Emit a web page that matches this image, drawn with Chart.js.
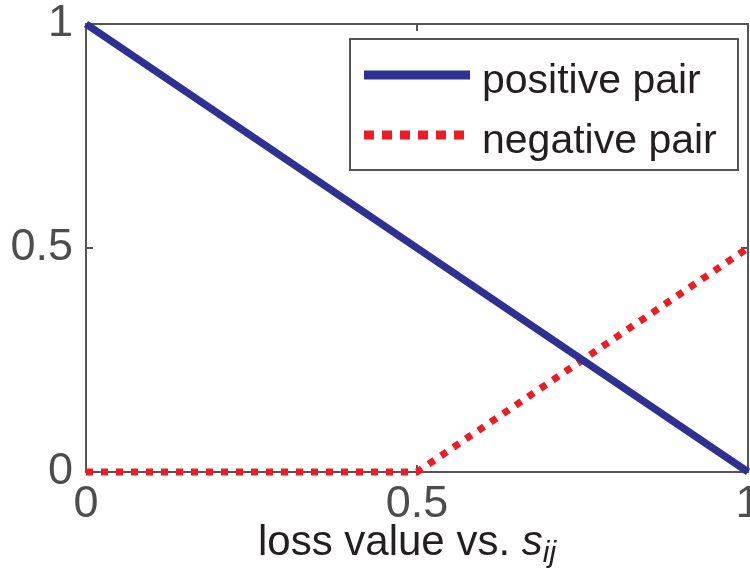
<!DOCTYPE html>
<html>
<head>
<meta charset="utf-8">
<script src="https://cdn.jsdelivr.net/npm/chart.js@4/dist/chart.umd.min.js"></script>
<style>
  html, body { margin: 0; padding: 0; background: #ffffff; }
  #wrap { width: 750px; height: 571px; }
</style>
</head>
<body>
<div id="wrap"><canvas id="c" width="750" height="571"></canvas></div>
<script>
// Similarity s_ij on the x axis, loss on the y axis
const sValues = [0, 0.5, 1];
const positivePairLoss = [1, 0.5, 0];
const negativePairLoss = [0, 0, 0.5];
const seriesNames = ['positive pair', 'negative pair'];
const tickValues = [0, 0.5, 1];
const tickLabels = ['0', '0.5', '1'];

const FONT = '"Liberation Sans", Arial, Helvetica, sans-serif';
const AXIS_COLOR = '#555555';
const TICK_TEXT = '#4d4d4d';
const TEXT = '#231f20';

function toPoints(xs, ys) {
  return xs.map((x, i) => ({ x: x, y: ys[i] }));
}

function fixedTicks(scale) {
  scale.ticks = tickValues.map(v => ({ value: v }));
}

// Box around the plot with inward tick marks on all four sides (drawn under the lines)
const boxPlugin = {
  id: 'box',
  beforeDatasetsDraw(chart) {
    const { ctx, chartArea: a, scales } = chart;
    ctx.save();
    ctx.strokeStyle = AXIS_COLOR;
    ctx.lineWidth = 2;
    ctx.strokeRect(a.left, a.top, a.right - a.left, a.bottom - a.top);
    const len = 7;
    ctx.beginPath();
    tickValues.forEach(v => {
      const px = scales.x.getPixelForValue(v);
      ctx.moveTo(px, a.bottom); ctx.lineTo(px, a.bottom - len);
      ctx.moveTo(px, a.top); ctx.lineTo(px, a.top + len);
      const py = scales.y.getPixelForValue(v);
      ctx.moveTo(a.left, py); ctx.lineTo(a.left + len, py);
      ctx.moveTo(a.right, py); ctx.lineTo(a.right - len, py);
    });
    ctx.stroke();
    ctx.restore();
  }
};

// Legend drawn inside the plot, upper right, with a framed box
const legendPlugin = {
  id: 'innerLegend',
  afterDraw(chart) {
    const { ctx, chartArea: a } = chart;
    const right = a.right - 10;
    const left = right - 388;
    const top = a.top + 15;
    const bottom = top + 131;
    ctx.save();
    ctx.fillStyle = '#ffffff';
    ctx.fillRect(left, top, right - left, bottom - top);
    ctx.strokeStyle = AXIS_COLOR;
    ctx.lineWidth = 2;
    ctx.strokeRect(left, top, right - left, bottom - top);
    const rows = [top + 36, top + 96];
    chart.data.datasets.forEach((ds, i) => {
      const y = rows[i];
      ctx.beginPath();
      ctx.strokeStyle = ds.borderColor;
      ctx.lineWidth = 9;
      ctx.setLineDash(ds.borderDash ? [10, 8] : []);
      ctx.lineCap = 'butt';
      ctx.moveTo(left + 14, y);
      ctx.lineTo(left + 120, y);
      ctx.stroke();
      ctx.setLineDash([]);
      ctx.fillStyle = TEXT;
      ctx.font = '41px ' + FONT;
      ctx.textAlign = 'left';
      ctx.textBaseline = 'alphabetic';
      ctx.fillText(ds.label, left + 132, y + 18);
    });
    ctx.restore();
  }
};

// X-axis title with italic, subscripted s_ij
const xTitlePlugin = {
  id: 'xTitle',
  afterDraw(chart) {
    const { ctx, chartArea: a } = chart;
    const main = 'loss value vs. ';
    const sym = 's';
    const sub = 'ij';
    ctx.save();
    ctx.fillStyle = TEXT;
    ctx.textBaseline = 'alphabetic';
    ctx.textAlign = 'left';
    const fMain = '42px ' + FONT;
    const fSym = 'italic 42px ' + FONT;
    const fSub = 'italic 30px ' + FONT;
    ctx.font = fMain; const w1 = ctx.measureText(main).width;
    ctx.font = fSym; const w2 = ctx.measureText(sym).width;
    ctx.font = fSub; const w3 = ctx.measureText(sub).width;
    const total = w1 + w2 + w3;
    const cx = (a.left + a.right) / 2 - 10;
    let x = cx - total / 2;
    const base = a.bottom + 83;
    ctx.font = fMain; ctx.fillText(main, x, base); x += w1;
    ctx.font = fSym; ctx.fillText(sym, x, base); x += w2;
    ctx.font = fSub; ctx.fillText(sub, x, base + 7);
    ctx.restore();
  }
};

new Chart(document.getElementById('c'), {
  type: 'scatter',
  data: {
    datasets: [
      {
        label: seriesNames[0],
        data: toPoints(sValues, positivePairLoss),
        showLine: true,
        borderColor: '#2e3192',
        backgroundColor: '#2e3192',
        borderWidth: 7.5,
        pointRadius: 0,
        tension: 0,
        clip: 4
      },
      {
        label: seriesNames[1],
        data: toPoints(sValues, negativePairLoss),
        showLine: true,
        borderColor: '#ed1c24',
        backgroundColor: '#ed1c24',
        borderWidth: 7,
        borderDash: [7, 8],
        borderCapStyle: 'butt',
        pointRadius: 0,
        tension: 0,
        clip: 4
      }
    ]
  },
  options: {
    responsive: false,
    animation: false,
    devicePixelRatio: 1,
    layout: { padding: { top: 24, right: 2, left: 0, bottom: 0 } },
    plugins: {
      legend: { display: false },
      tooltip: { enabled: false }
    },
    scales: {
      x: {
        type: 'linear',
        min: 0,
        max: 1,
        afterBuildTicks: fixedTicks,
        afterFit(scale) {
          scale.height = 99;
          scale.paddingLeft = 0;
          scale.paddingRight = 0;
        },
        grid: { display: false, drawTicks: false },
        border: { display: false },
        ticks: {
          padding: 6,
          maxRotation: 0,
          autoSkip: false,
          color: TICK_TEXT,
          font: { family: FONT, size: 45 },
          callback: (v) => tickLabels[tickValues.indexOf(v)]
        }
      },
      y: {
        type: 'linear',
        min: 0,
        max: 1,
        afterBuildTicks: fixedTicks,
        afterFit(scale) {
          scale.width = 86;
          scale.paddingTop = 0;
          scale.paddingBottom = 0;
        },
        grid: { display: false, drawTicks: false },
        border: { display: false },
        ticks: {
          padding: 13,
          autoSkip: false,
          color: TICK_TEXT,
          font: { family: FONT, size: 45 },
          callback: (v) => tickLabels[tickValues.indexOf(v)]
        }
      }
    }
  },
  plugins: [boxPlugin, legendPlugin, xTitlePlugin]
});
</script>
</body>
</html>
